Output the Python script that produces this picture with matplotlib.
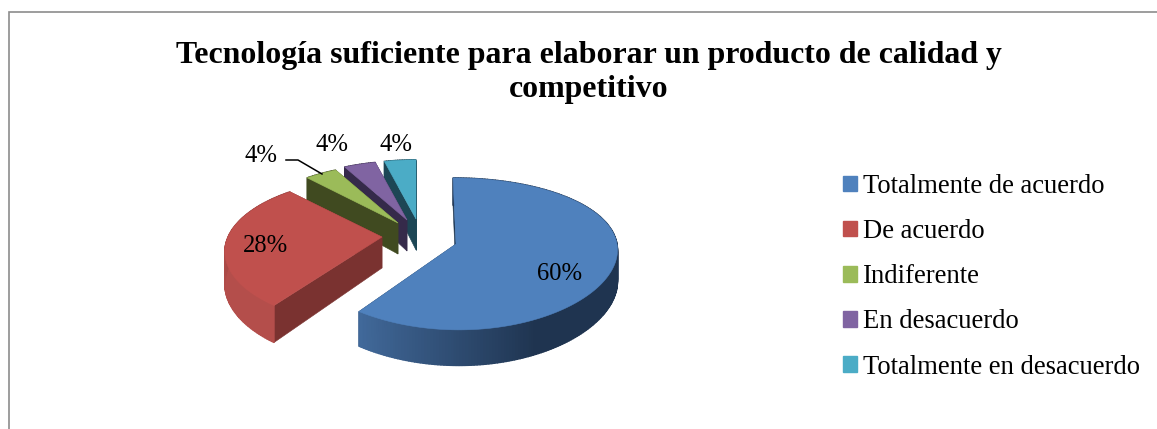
import numpy as np
import matplotlib
matplotlib.use("Agg")
import matplotlib.pyplot as plt
from matplotlib.patches import Polygon, Patch
from matplotlib.colors import to_rgb

title = "Tecnología suficiente para elaborar un producto de calidad y\ncompetitivo"
categories = ["Totalmente de acuerdo", "De acuerdo", "Indiferente", "En desacuerdo", "Totalmente en desacuerdo"]
percent = [60, 28, 4, 4, 4]

top_colors = ["#4f81bd", "#c0504d", "#9bbb59", "#8064a2", "#4bacc6"]
face_colors = ["#1d3550", "#7a3230", "#404a20", "#352a4a", "#1d4655"]
# wall shade at the clockwise end of the slice and at the far side
wall_near = ["#41699a", "#8a3836", "#404a20", "#352a4a", "#1d4655"]
wall_far = ["#1f3450", "#b44e4b", "#404a20", "#352a4a", "#1d4655"]

# slice placement: apex x, apex y, radius x, radius y, perspective y, perspective x, lean
place = [
    (456, 244, 161, 74.7, 0.13, 0.06, 3),
    (382, 237, 154, 71, 0.2, 0.2, 0),
    (398, 223, 152, 71, 0.2, 0.2, 0),
    (407, 220, 152, 71, 0.2, 0.2, 0),
    (416, 219, 152, 71, 0.2, 0.2, 0),
]
depth = 31
label_pos = [(560, 274), (266, 246), (261, 156), (332, 145), (396, 145)]

plt.rcParams["font.family"] = "Liberation Serif"
fig = plt.figure(figsize=(11.57, 4.29), dpi=100)
ax = fig.add_axes([0, 0, 1, 1])
ax.set_xlim(0, 1157)
ax.set_ylim(429, 0)
ax.axis("off")

# chart frame, only the left and top edges fall on the page
ax.plot([9, 9, 1157], [429, 12, 12], color="#8c8c8c", lw=1.2, solid_joinstyle="miter")


def project(i, theta, z=0):
    ax0, ay0, rx, ry, b, bx, lean = place[i]
    u, v = np.sin(theta), np.cos(theta)
    s = 1 / (1 + b * v)
    return ax0 + rx * u / (1 + bx * v) - lean * v, ay0 - ry * v * s + z * s


edges = np.radians(np.concatenate([[0], np.cumsum(percent)]) * 3.6)

# back slices first so the front ones overlap them
for i in range(len(percent) - 1, -1, -1):
    t0, t1 = edges[i], edges[i + 1]
    ax0, ay0 = place[i][:2]
    n = max(int(np.degrees(t1 - t0)), 6)
    th = np.linspace(t0, t1, n + 1)

    # straight cut faces
    for t in (t0, t1):
        x, y = project(i, t)
        xb, yb = project(i, t, depth)
        ax.add_patch(Polygon([(ax0, ay0), (x, y), (xb, yb), (ax0, ay0 + depth)],
                             fc=face_colors[i], ec=face_colors[i], lw=0.4))

    # curved outer wall, drawn in thin strips for the shading
    near = np.array(to_rgb(wall_near[i]))
    far = np.array(to_rgb(wall_far[i]))
    for a, c in zip(th[:-1], th[1:]):
        k = np.clip((t1 - c) / np.radians(62), 0, 1)
        col = near + (far - near) * k
        xa, ya = project(i, a)
        xc, yc = project(i, c)
        xa2, ya2 = project(i, a, depth)
        xc2, yc2 = project(i, c, depth)
        ax.add_patch(Polygon([(xa, ya), (xc, yc), (xc2, yc2), (xa2, ya2)],
                             fc=col, ec=col, lw=1.0))

    xs, ys = project(i, th)
    ax.add_patch(Polygon(np.column_stack([np.r_[ax0, xs], np.r_[ay0, ys]]),
                         fc=top_colors[i], ec=top_colors[i], lw=0.4))

for p, pos in zip(percent, label_pos):
    ax.text(pos[0], pos[1], "%d%%" % p, fontsize=17.7, color="black", ha="center", va="center")

ax.plot([286, 298, 322], [160, 160, 174], color="black", lw=1.1)

ax.text(589, 72.5, title, fontsize=22.95, fontweight="bold", ha="center", va="center", linespacing=1.2)

handles = [Patch(fc=c, ec=c, label=n) for c, n in zip(top_colors, categories)]
ax.legend(handles=handles, loc="upper left", bbox_to_anchor=(843 / 1157, 1 - 174 / 429),
          bbox_transform=fig.transFigure, frameon=False, fontsize=19.2,
          handlelength=0.52, handleheight=0.52, handletextpad=0.23, labelspacing=0.755,
          borderpad=0, borderaxespad=0)

fig.savefig("out.png", dpi=100)
